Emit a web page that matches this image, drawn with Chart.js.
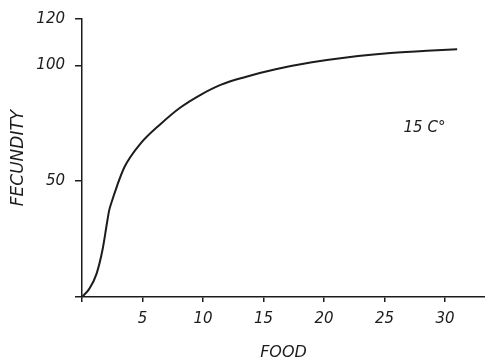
<!DOCTYPE html>
<html>
<head>
<meta charset="utf-8">
<script src="https://cdn.jsdelivr.net/npm/chart.js@4.4.1/dist/chart.umd.min.js"></script>
<style>
  html, body { margin: 0; padding: 0; background: #fff; }
  canvas { display: block; }
</style>
</head>
<body>
<canvas id="c" width="485" height="364"></canvas>
<script>
// fecundity vs. food ration at 15 C
const food = [0, 0.6, 1.2, 1.7, 2.05, 2.25, 2.45, 2.9, 3.5, 4.8, 6.5, 8.1, 9.8, 11.5, 13.5, 16, 19, 22, 25.5, 28.5, 31];
const fecundity = [0, 3.5, 10, 20.5, 31.5, 37.5, 41, 48, 56, 66, 74.7, 81.7, 87.3, 91.7, 95, 98.3, 101.3, 103.5, 105.3, 106.3, 106.9];

const xTicks = [0, 5, 10, 15, 20, 25, 30];
const yTicks = [0, 50, 100, 120];

const INK = "#1c1c1c";
const FONT = "'DejaVu Sans', sans-serif";

const tempLabel = {
  id: "tempLabel",
  afterDraw(chart) {
    const { ctx, scales: { x, y } } = chart;
    ctx.save();
    ctx.fillStyle = INK;
    ctx.font = "italic 15px " + FONT;
    ctx.textAlign = "center";
    ctx.textBaseline = "middle";
    ctx.fillText("15 C°", x.getPixelForValue(28.3), y.getPixelForValue(73));
    ctx.restore();
  }
};

new Chart(document.getElementById("c"), {
  type: "line",
  data: {
    datasets: [{
      data: food.map((f, i) => ({ x: f, y: fecundity[i] })),
      borderColor: INK,
      borderWidth: 2,
      pointRadius: 0,
      cubicInterpolationMode: "monotone",
      fill: false
    }]
  },
  options: {
    responsive: false,
    animation: false,
    layout: { padding: { top: 13, right: 0, bottom: 0, left: 0 } },
    plugins: { legend: { display: false }, tooltip: { enabled: false } },
    scales: {
      x: {
        type: "linear",
        min: 0,
        max: 33.3,
        afterBuildTicks: s => { s.ticks = xTicks.map(v => ({ value: v })); },
        afterFit: s => { s.height = 67; },
        border: { display: true, color: INK, width: 1.5 },
        grid: { drawOnChartArea: false, drawTicks: true, tickLength: 5, color: INK, lineWidth: 1.5 },
        ticks: {
          color: INK,
          padding: 8,
          maxRotation: 0,
          font: { family: FONT, size: 15, style: "italic" },
          callback: v => (v === 0 ? "" : v)
        },
        title: {
          display: true,
          text: "FOOD",
          color: INK,
          padding: { top: 0, bottom: 2 },
          font: { family: FONT, size: 16, style: "italic" }
        }
      },
      y: {
        min: 0,
        max: 120,
        afterBuildTicks: s => { s.ticks = yTicks.map(v => ({ value: v })); },
        afterFit: s => { s.width = 82; },
        border: { display: true, color: INK, width: 1.5 },
        grid: { drawOnChartArea: false, drawTicks: true, tickLength: 7, color: INK, lineWidth: 1.5 },
        ticks: {
          color: INK,
          padding: 10,
          font: { family: FONT, size: 15, style: "italic" },
          callback: v => (v === 0 ? "" : v)
        },
        title: {
          display: true,
          text: "FECUNDITY",
          color: INK,
          padding: { top: 8, bottom: 0 },
          font: { family: FONT, size: 17, style: "italic" }
        }
      }
    }
  },
  plugins: [tempLabel]
});
</script>
</body>
</html>
